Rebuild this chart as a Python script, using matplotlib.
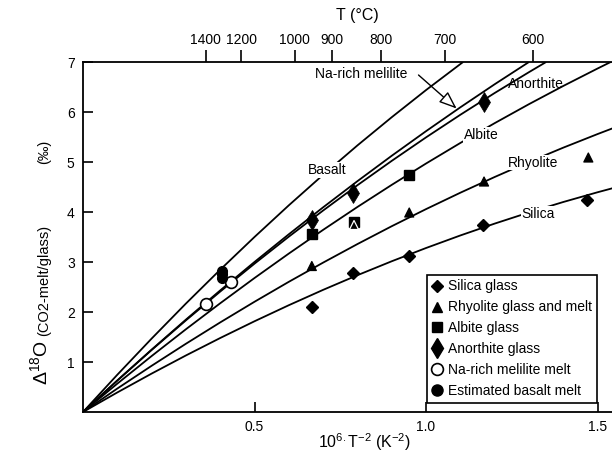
import numpy as np
import matplotlib
matplotlib.use("Agg")
import matplotlib.pyplot as plt
from matplotlib.lines import Line2D

plt.rcParams['font.family'] = ['Liberation Sans', 'DejaVu Sans']
plt.rcParams['mathtext.fontset'] = 'custom'
plt.rcParams['mathtext.rm'] = 'Liberation Sans'
plt.rcParams['mathtext.it'] = 'Liberation Sans'

# ---- data points (x = 10^6/T^2, y = Delta18O) ----
silica_x = [0.667, 0.788, 0.951, 1.167, 1.470]
silica_y = [2.11, 2.79, 3.12, 3.74, 4.25]
rhyolite_x = [0.667, 0.951, 1.169, 1.473, 0.790]
rhyolite_y = [2.92, 3.99, 4.61, 5.09, 3.74]
rhyolite_edge = ['black', 'black', 'black', 'black', 'white']
albite_x = [0.667, 0.790, 0.951]
albite_y = [3.57, 3.80, 4.74]
anorthite_x = [0.667, 0.786, 1.169]
anorthite_y = [3.84, 4.39, 6.21]
melilite_x = [0.359, 0.431]
melilite_y = [2.16, 2.61]
basalt_x = [0.404, 0.404, 0.404]
basalt_y = [2.83, 2.76, 2.69]

# ---- calibration curves ----
basalt_cx = [0, 0.1, 0.2, 0.3, 0.4, 0.5, 0.6, 0.7, 0.8, 0.9, 1.0, 1.1, 1.108]
basalt_cy = [0, 0.745, 1.468, 2.169, 2.846, 3.501, 4.134, 4.744, 5.332, 5.896,
             6.439, 6.959, 7.0]
melilite_cx = [0, 0.1, 0.2, 0.3, 0.4, 0.5, 0.6, 0.7, 0.8, 0.9, 1.0, 1.1, 1.2, 1.3]
melilite_cy = [0, 0.631, 1.247, 1.848, 2.432, 3.001, 3.555, 4.094, 4.617, 5.125,
               5.617, 6.094, 6.555, 7.0]
anorthite_cx = [0, 0.1, 0.2, 0.3, 0.4, 0.5, 0.6, 0.7, 0.8, 0.9, 1.0, 1.1, 1.2, 1.3, 1.35]
anorthite_cy = [0, 0.629, 1.240, 1.833, 2.409, 2.967, 3.507, 4.030, 4.536, 5.023,
                5.493, 5.945, 6.380, 6.797, 7.0]
albite_cx = [0, 0.1, 0.2, 0.3, 0.4, 0.5, 0.6, 0.7, 0.8, 0.9, 1.0, 1.1, 1.2, 1.3,
             1.4, 1.5, 1.55]
albite_cy = [0, 0.567, 1.119, 1.655, 2.175, 2.680, 3.169, 3.643, 4.101, 4.543,
             4.970, 5.381, 5.777, 6.157, 6.521, 6.870, 7.04]
rhyolite_cx = [0, 0.1, 0.2, 0.3, 0.4, 0.5, 0.6, 0.7, 0.8, 0.9, 1.0, 1.1, 1.2, 1.3,
               1.4, 1.5, 1.55]
rhyolite_cy = [0, 0.469, 0.924, 1.365, 1.792, 2.205, 2.604, 2.988, 3.359, 3.716,
               4.058, 4.386, 4.700, 5.001, 5.287, 5.559, 5.69]
silica_cx = [0, 0.1, 0.2, 0.3, 0.4, 0.5, 0.6, 0.7, 0.8, 0.9, 1.0, 1.1, 1.2, 1.3,
             1.4, 1.5, 1.55]
silica_cy = [0, 0.391, 0.768, 1.131, 1.480, 1.815, 2.136, 2.443, 2.736, 3.015,
             3.28, 3.531, 3.768, 3.991, 4.200, 4.395, 4.487]

# ---- axis ticks ----
x_ticks = [0.5, 1.0, 1.5]
x_ticklabels = ['0.5', '1.0', '1.5']
y_ticks = [1, 2, 3, 4, 5, 6, 7]
top_T = [1400, 1200, 1000, 900, 800, 700, 600]

# ---- curve labels ----
curve_labels = ['Basalt', 'Albite', 'Rhyolite', 'Silica']
curve_label_x = [0.712, 1.160, 1.313, 1.326]
curve_label_y = [4.84, 5.54, 4.99, 3.97]

fig = plt.figure(figsize=(6.12, 4.58), dpi=100)
ax = fig.add_axes([83 / 612, 46 / 458, 529 / 612, 350 / 458])
ax.set_xlim(0, 1.542)
ax.set_ylim(0, 7)

lw = 1.3
for cx, cy in [(basalt_cx, basalt_cy), (melilite_cx, melilite_cy),
               (anorthite_cx, anorthite_cy), (albite_cx, albite_cy),
               (rhyolite_cx, rhyolite_cy), (silica_cx, silica_cy)]:
    ax.plot(cx, cy, color='black', lw=lw, zorder=2, solid_capstyle='butt',
            solid_joinstyle='round')

for lab, lx, ly in zip(curve_labels, curve_label_x, curve_label_y):
    ax.text(lx, ly, lab, fontsize=10, ha='center', va='center', zorder=3,
            bbox=dict(boxstyle='square,pad=0.05', fc='white', ec='none'))

ax.text(1.32, 6.55, 'Anorthite', fontsize=10, ha='center', va='center', zorder=3)
ax.text(0.812, 6.77, 'Na-rich melilite', fontsize=10, ha='center', va='center', zorder=3)
ax.annotate('', xy=(1.089, 6.07), xytext=(0.978, 6.74),
            arrowprops=dict(arrowstyle='-|>,head_length=0.9,head_width=0.35',
                            fc='white', ec='black', lw=1.0, mutation_scale=12,
                            shrinkA=0, shrinkB=0), zorder=3)

# markers
ax.plot(silica_x, silica_y, ls='none', marker='D', ms=6.5, color='black', zorder=4)
ax.plot(albite_x, albite_y, ls='none', marker='s', ms=7.5, color='black', zorder=4)
ax.scatter(rhyolite_x, rhyolite_y, marker='^', s=42, c='black',
           edgecolors=rhyolite_edge, linewidths=0.9, zorder=5)
ax.plot(anorthite_x, anorthite_y, ls='none', marker='d', ms=10, mew=0.5,
        color='black', zorder=4)
ax.plot(melilite_x, melilite_y, ls='none', marker='o', ms=8.5, mfc='white',
        mec='black', mew=1.2, zorder=4)
ax.plot(basalt_x, basalt_y, ls='none', marker='o', ms=7, color='black', zorder=4)

# axes styling
ax.spines['right'].set_visible(False)
ax.spines['top'].set_visible(False)
for s in ['left', 'bottom']:
    ax.spines[s].set_linewidth(1.3)
ax.set_xticks(x_ticks)
ax.set_xticklabels(x_ticklabels)
ax.set_yticks(y_ticks)
ax.tick_params(axis='both', direction='in', length=7, width=1.2, labelsize=10, pad=6)
ax.set_xlabel(r'10$^{\mathregular{6.}}$T$^{\mathregular{-2}}$ (K$^{\mathregular{-2}}$)',
              fontsize=11.5)
ax.xaxis.set_label_coords(0.533, -0.055)

ax2 = ax.twiny()
ax2.set_xlim(ax.get_xlim())
ax2.set_xticks(1e6 / (np.array(top_T) + 273.15) ** 2)
ax2.set_xticklabels([str(t) for t in top_T])
ax2.tick_params(axis='x', direction='out', length=9, width=1.2, labelsize=10, pad=2)
for s in ['left', 'bottom', 'right']:
    ax2.spines[s].set_visible(False)
ax2.spines['top'].set_linewidth(1.3)
ax2.set_xlabel('T (°C)', fontsize=11.5)
ax2.xaxis.set_label_coords(0.518, 1.12)

# y label pieces
fig.text(40 / 612, 1 - 362 / 458, r'$\Delta^{\mathregular{18}}$O', rotation=90,
         fontsize=14, ha='center', va='center')
fig.text(44 / 612, 1 - 280 / 458, '(CO2-melt/glass)', rotation=90,
         fontsize=10.5, ha='center', va='center')
fig.text(44 / 612, 1 - 152 / 458, '(‰)', rotation=90,
         fontsize=10.5, ha='center', va='center')

# legend
handles = [
    Line2D([], [], ls='none', marker='D', ms=6.5, color='black'),
    Line2D([], [], ls='none', marker='^', ms=7, color='black'),
    Line2D([], [], ls='none', marker='s', ms=7.5, color='black'),
    Line2D([], [], ls='none', marker='d', ms=10, color='black'),
    Line2D([], [], ls='none', marker='o', ms=8.5, mfc='white', mec='black', mew=1.2),
    Line2D([], [], ls='none', marker='o', ms=8, color='black'),
]
labels = ['Silica glass', 'Rhyolite glass and melt', 'Albite glass',
          'Anorthite glass', 'Na-rich melilite melt', 'Estimated basalt melt']
leg = ax.legend(handles, labels, loc='lower right', bbox_to_anchor=(597 / 612, 55 / 458),
                bbox_transform=fig.transFigure, borderaxespad=0, fontsize=10,
                handlelength=0.8, handletextpad=0.4, labelspacing=0.5,
                borderpad=0.35, fancybox=False, edgecolor='black', framealpha=1)
leg.get_frame().set_linewidth(1.2)
leg.set_zorder(6)

fig.savefig('out.png', dpi=100)
